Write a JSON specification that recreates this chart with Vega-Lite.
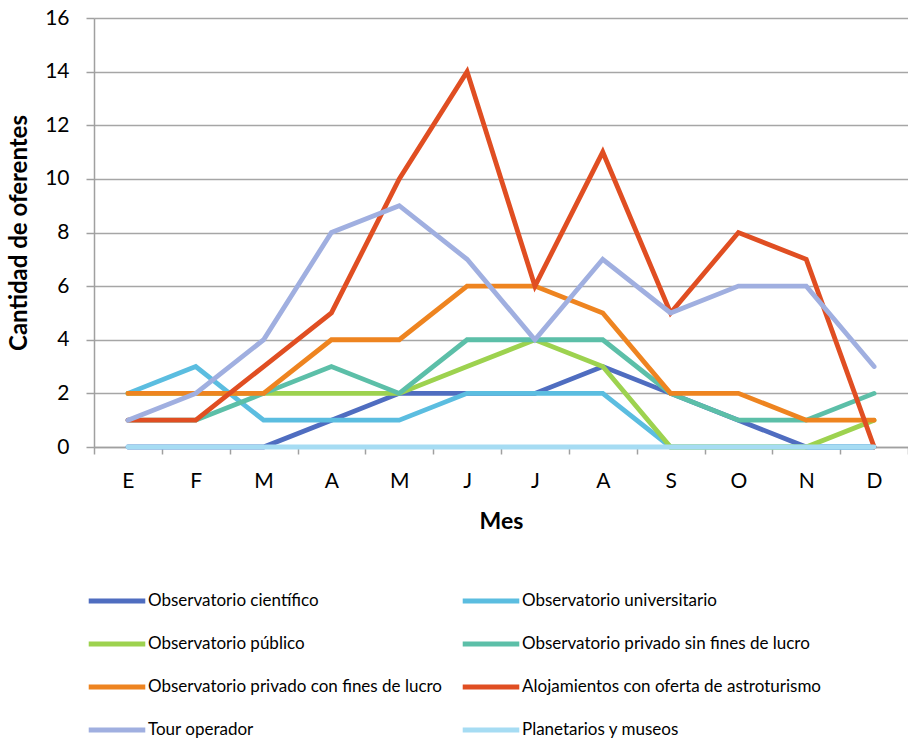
{
  "$schema": "https://vega.github.io/schema/vega-lite/v6.json",
  "width": 814,
  "height": 429,
  "autosize": {"type": "none"},
  "padding": {"left": 94, "top": 18, "right": 0, "bottom": 291},
  "background": "white",
  "config": {"font": "Lato", "view": {"stroke": null}},
  "datasets": {
    "rows": [
      {"s": "Observatorio científico", "m": "E", "v": 0}, {"s": "Observatorio científico", "m": "F", "v": 0}, {"s": "Observatorio científico", "m": "M1", "v": 0}, {"s": "Observatorio científico", "m": "A1", "v": 1}, {"s": "Observatorio científico", "m": "M2", "v": 2}, {"s": "Observatorio científico", "m": "J1", "v": 2}, {"s": "Observatorio científico", "m": "J2", "v": 2}, {"s": "Observatorio científico", "m": "A2", "v": 3}, {"s": "Observatorio científico", "m": "S", "v": 2}, {"s": "Observatorio científico", "m": "O", "v": 1}, {"s": "Observatorio científico", "m": "N", "v": 0}, {"s": "Observatorio científico", "m": "D", "v": 0},
      {"s": "Observatorio universitario", "m": "E", "v": 2}, {"s": "Observatorio universitario", "m": "F", "v": 3}, {"s": "Observatorio universitario", "m": "M1", "v": 1}, {"s": "Observatorio universitario", "m": "A1", "v": 1}, {"s": "Observatorio universitario", "m": "M2", "v": 1}, {"s": "Observatorio universitario", "m": "J1", "v": 2}, {"s": "Observatorio universitario", "m": "J2", "v": 2}, {"s": "Observatorio universitario", "m": "A2", "v": 2}, {"s": "Observatorio universitario", "m": "S", "v": 0}, {"s": "Observatorio universitario", "m": "O", "v": 0}, {"s": "Observatorio universitario", "m": "N", "v": 0}, {"s": "Observatorio universitario", "m": "D", "v": 0},
      {"s": "Observatorio público", "m": "E", "v": 2}, {"s": "Observatorio público", "m": "F", "v": 2}, {"s": "Observatorio público", "m": "M1", "v": 2}, {"s": "Observatorio público", "m": "A1", "v": 2}, {"s": "Observatorio público", "m": "M2", "v": 2}, {"s": "Observatorio público", "m": "J1", "v": 3}, {"s": "Observatorio público", "m": "J2", "v": 4}, {"s": "Observatorio público", "m": "A2", "v": 3}, {"s": "Observatorio público", "m": "S", "v": 0}, {"s": "Observatorio público", "m": "O", "v": 0}, {"s": "Observatorio público", "m": "N", "v": 0}, {"s": "Observatorio público", "m": "D", "v": 1},
      {"s": "Observatorio privado sin fines de lucro", "m": "E", "v": 1}, {"s": "Observatorio privado sin fines de lucro", "m": "F", "v": 1}, {"s": "Observatorio privado sin fines de lucro", "m": "M1", "v": 2}, {"s": "Observatorio privado sin fines de lucro", "m": "A1", "v": 3}, {"s": "Observatorio privado sin fines de lucro", "m": "M2", "v": 2}, {"s": "Observatorio privado sin fines de lucro", "m": "J1", "v": 4}, {"s": "Observatorio privado sin fines de lucro", "m": "J2", "v": 4}, {"s": "Observatorio privado sin fines de lucro", "m": "A2", "v": 4}, {"s": "Observatorio privado sin fines de lucro", "m": "S", "v": 2}, {"s": "Observatorio privado sin fines de lucro", "m": "O", "v": 1}, {"s": "Observatorio privado sin fines de lucro", "m": "N", "v": 1}, {"s": "Observatorio privado sin fines de lucro", "m": "D", "v": 2},
      {"s": "Observatorio privado con fines de lucro", "m": "E", "v": 2}, {"s": "Observatorio privado con fines de lucro", "m": "F", "v": 2}, {"s": "Observatorio privado con fines de lucro", "m": "M1", "v": 2}, {"s": "Observatorio privado con fines de lucro", "m": "A1", "v": 4}, {"s": "Observatorio privado con fines de lucro", "m": "M2", "v": 4}, {"s": "Observatorio privado con fines de lucro", "m": "J1", "v": 6}, {"s": "Observatorio privado con fines de lucro", "m": "J2", "v": 6}, {"s": "Observatorio privado con fines de lucro", "m": "A2", "v": 5}, {"s": "Observatorio privado con fines de lucro", "m": "S", "v": 2}, {"s": "Observatorio privado con fines de lucro", "m": "O", "v": 2}, {"s": "Observatorio privado con fines de lucro", "m": "N", "v": 1}, {"s": "Observatorio privado con fines de lucro", "m": "D", "v": 1},
      {"s": "Alojamientos con oferta de astroturismo", "m": "E", "v": 1}, {"s": "Alojamientos con oferta de astroturismo", "m": "F", "v": 1}, {"s": "Alojamientos con oferta de astroturismo", "m": "M1", "v": 3}, {"s": "Alojamientos con oferta de astroturismo", "m": "A1", "v": 5}, {"s": "Alojamientos con oferta de astroturismo", "m": "M2", "v": 10}, {"s": "Alojamientos con oferta de astroturismo", "m": "J1", "v": 14}, {"s": "Alojamientos con oferta de astroturismo", "m": "J2", "v": 6}, {"s": "Alojamientos con oferta de astroturismo", "m": "A2", "v": 11}, {"s": "Alojamientos con oferta de astroturismo", "m": "S", "v": 5}, {"s": "Alojamientos con oferta de astroturismo", "m": "O", "v": 8}, {"s": "Alojamientos con oferta de astroturismo", "m": "N", "v": 7}, {"s": "Alojamientos con oferta de astroturismo", "m": "D", "v": 0},
      {"s": "Tour operador", "m": "E", "v": 1}, {"s": "Tour operador", "m": "F", "v": 2}, {"s": "Tour operador", "m": "M1", "v": 4}, {"s": "Tour operador", "m": "A1", "v": 8}, {"s": "Tour operador", "m": "M2", "v": 9}, {"s": "Tour operador", "m": "J1", "v": 7}, {"s": "Tour operador", "m": "J2", "v": 4}, {"s": "Tour operador", "m": "A2", "v": 7}, {"s": "Tour operador", "m": "S", "v": 5}, {"s": "Tour operador", "m": "O", "v": 6}, {"s": "Tour operador", "m": "N", "v": 6}, {"s": "Tour operador", "m": "D", "v": 3},
      {"s": "Planetarios y museos", "m": "E", "v": 0}, {"s": "Planetarios y museos", "m": "F", "v": 0}, {"s": "Planetarios y museos", "m": "M1", "v": 0}, {"s": "Planetarios y museos", "m": "A1", "v": 0}, {"s": "Planetarios y museos", "m": "M2", "v": 0}, {"s": "Planetarios y museos", "m": "J1", "v": 0}, {"s": "Planetarios y museos", "m": "J2", "v": 0}, {"s": "Planetarios y museos", "m": "A2", "v": 0}, {"s": "Planetarios y museos", "m": "S", "v": 0}, {"s": "Planetarios y museos", "m": "O", "v": 0}, {"s": "Planetarios y museos", "m": "N", "v": 0}, {"s": "Planetarios y museos", "m": "D", "v": 0}
    ]
  },
  "data": {"name": "rows"},
  "mark": {"type": "line", "strokeWidth": 4.8, "strokeCap": "round"},
  "encoding": {
    "x": {
      "field": "m",
      "type": "ordinal",
      "sort": ["E", "F", "M1", "A1", "M2", "J1", "J2", "A2", "S", "O", "N", "D"],
      "scale": {"type": "band", "paddingInner": 0, "paddingOuter": 0},
      "axis": {
        "title": "Mes",
        "titleFont": "Lato",
        "titleFontSize": 23,
        "titleFontWeight": "bold",
        "titleColor": "black",
        "titlePadding": 19,
        "labelExpr": "isValid(datum.value) ? substring(datum.value, 0, 1) : ''",
        "labelFontSize": 21,
        "labelColor": "black",
        "labelAngle": 0,
        "labelPadding": 16,
        "tickBand": "extent",
        "tickSize": 7,
        "tickColor": "#a0a0a0",
        "tickWidth": 1.5,
        "domainColor": "#a0a0a0",
        "domainWidth": 1.5,
        "grid": false
      }
    },
    "y": {
      "field": "v",
      "type": "quantitative",
      "scale": {"domain": [0, 16], "nice": false},
      "axis": {
        "title": "Cantidad de oferentes",
        "titleFont": "Lato",
        "titleFontSize": 24,
        "titleFontWeight": "bold",
        "titleColor": "black",
        "titlePadding": 13,
        "values": [0, 2, 4, 6, 8, 10, 12, 14, 16],
        "labelFontSize": 21,
        "labelColor": "black",
        "labelPadding": 17,
        "tickSize": 8,
        "tickColor": "#a0a0a0",
        "tickWidth": 1.5,
        "domainColor": "#a0a0a0",
        "domainWidth": 1.5,
        "grid": true,
        "gridColor": "#a6a6a6",
        "gridWidth": 1.5
      }
    },
    "color": {
      "field": "s",
      "type": "nominal",
      "sort": ["Observatorio científico", "Observatorio universitario", "Observatorio público", "Observatorio privado sin fines de lucro", "Observatorio privado con fines de lucro", "Alojamientos con oferta de astroturismo", "Tour operador", "Planetarios y museos"],
      "scale": {
        "domain": ["Observatorio científico", "Observatorio universitario", "Observatorio público", "Observatorio privado sin fines de lucro", "Observatorio privado con fines de lucro", "Alojamientos con oferta de astroturismo", "Tour operador", "Planetarios y museos"],
        "range": ["#4f6dc0", "#5bbde0", "#9dd24f", "#5cbfa8", "#ee8420", "#e04e22", "#a0afe0", "#a6dcf3"]
      },
      "legend": {
        "title": null,
        "orient": "none",
        "legendX": -8,
        "legendY": 552,
        "columns": 2,
        "direction": "horizontal",
        "symbolType": "stroke",
        "symbolSize": 3200,
        "symbolStrokeWidth": 5,
        "labelFontSize": 17,
        "labelColor": "black",
        "labelOffset": 0,
        "labelLimit": 400,
        "columnPadding": 10,
        "rowPadding": 2
      }
    }
  }
}
